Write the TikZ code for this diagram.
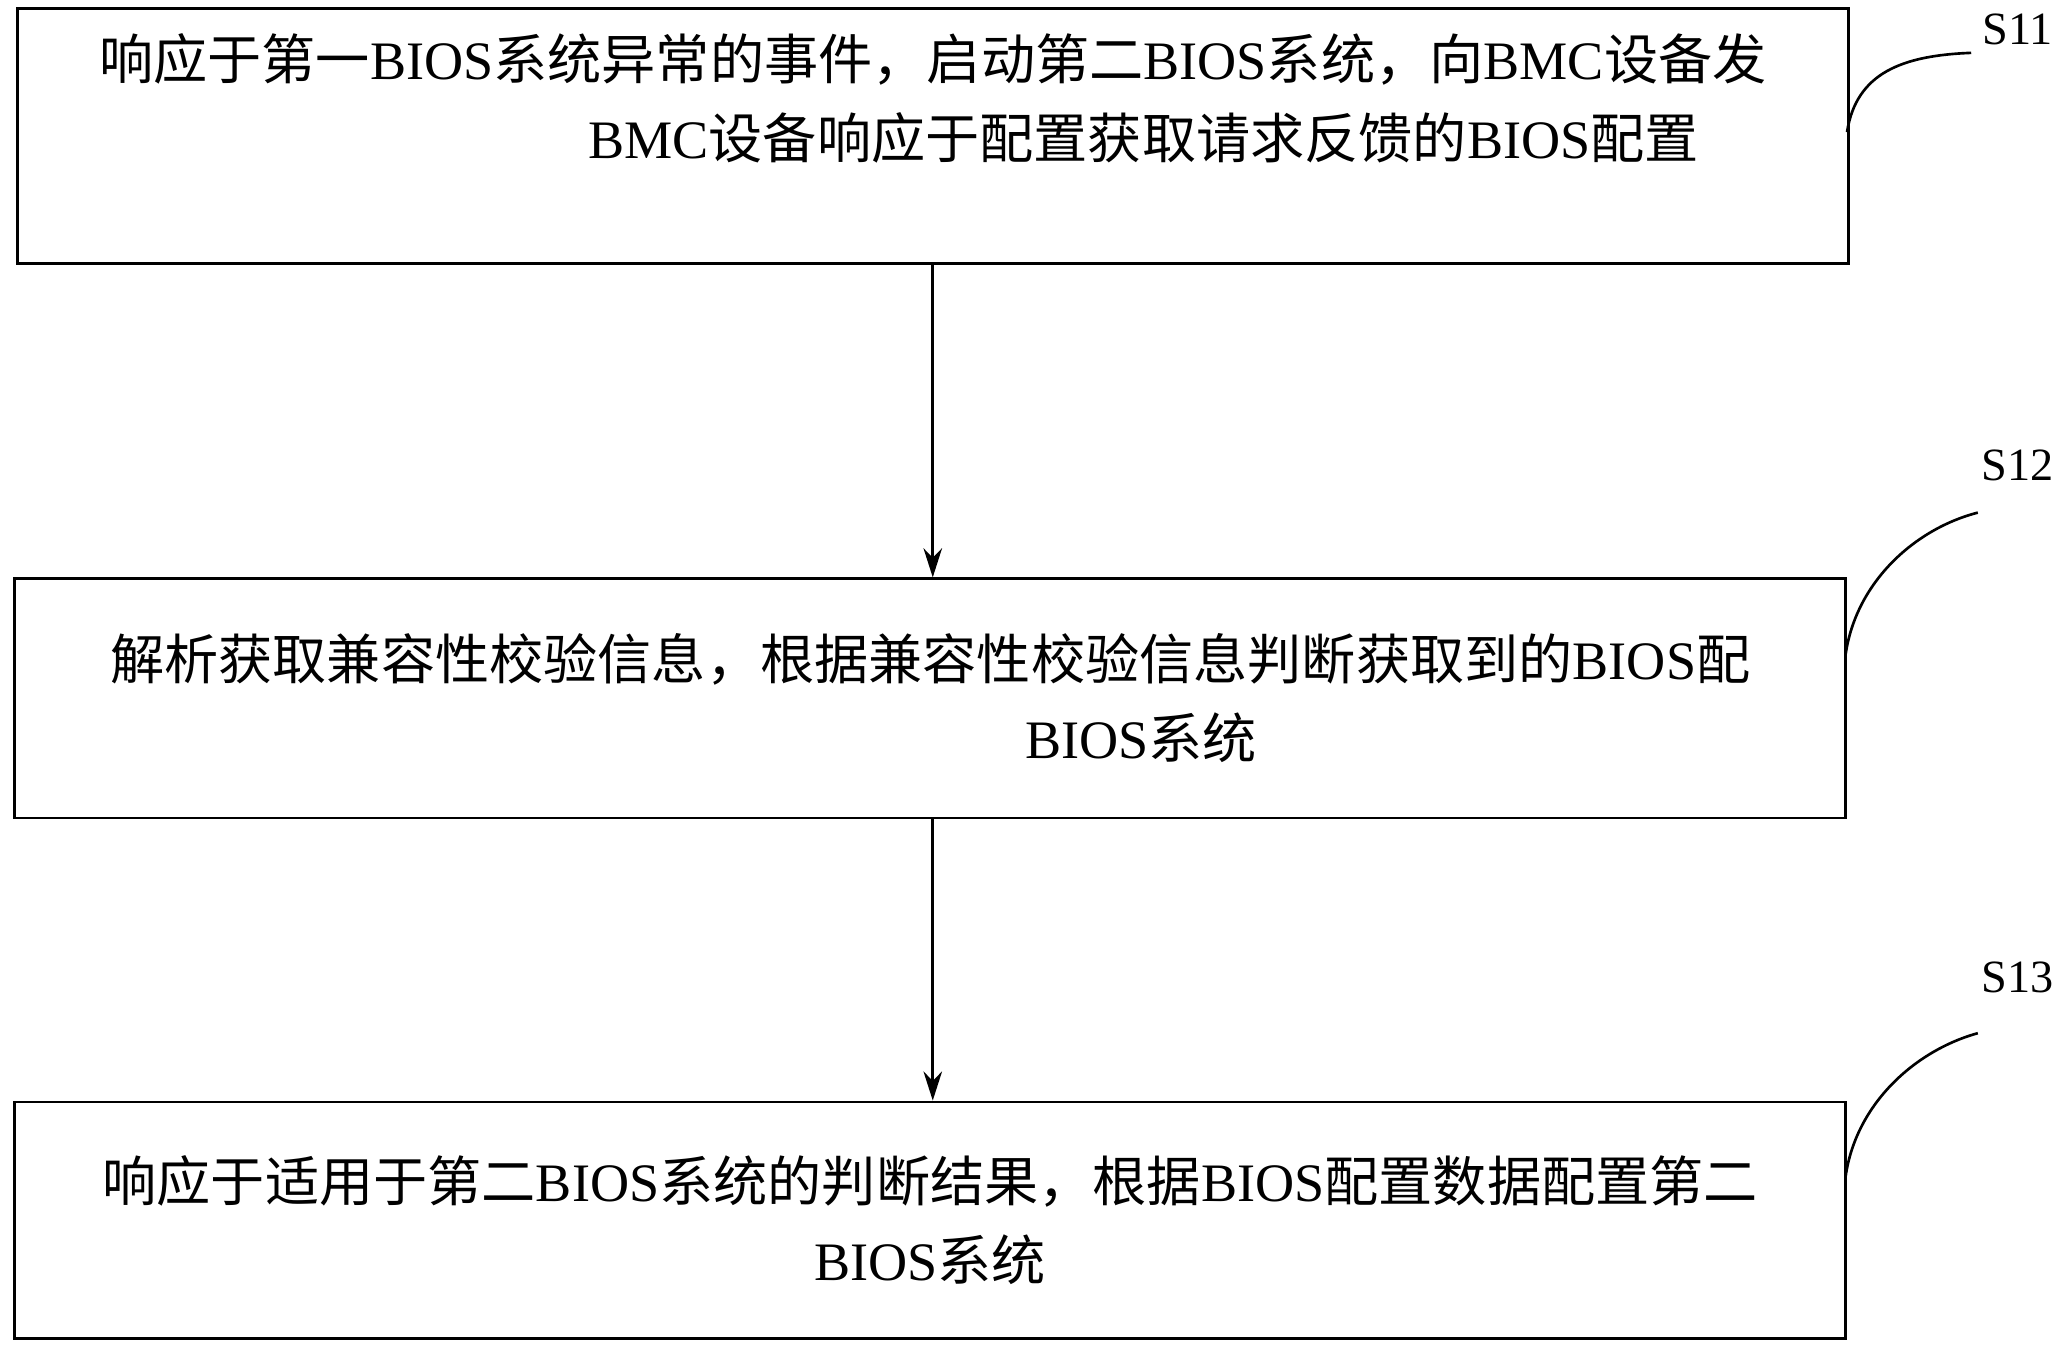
\documentclass[tikz,border=0pt]{standalone}
\usepackage{fontspec}
\setmainfont{Liberation Serif}
\newfontfamily\cjk{Noto Sans CJK SC}
\usetikzlibrary{arrows.meta}
\begin{document}
\begin{tikzpicture}[x=1pt,y=-1pt,
  stepbox/.style={draw,line width=2.2pt,minimum width=1386pt,anchor=north west,align=center,font=\fontsize{41}{60}\selectfont,inner sep=0pt},
  conn/.style={line width=2.2pt,-{Stealth[length=22pt,width=14pt]}},
  lab/.style={font=\fontsize{35}{40}\selectfont}]
\useasboundingbox (0,0) rectangle (1563,1018);
\node[stepbox,minimum height=193pt] (b1) at (12,5) {\cjk 响应于第一\rmfamily BIOS\cjk 系统异常的事件，启动第二\rmfamily BIOS\cjk 系统，向\rmfamily BMC\cjk 设备发\\送配置获取请求，获取\rmfamily BMC\cjk 设备响应于配置获取请求反馈的\rmfamily BIOS\cjk 配置\\数据};
\node[stepbox,minimum height=181pt] (b2) at (10,437) {\cjk 解析获取兼容性校验信息，根据兼容性校验信息判断获取到的\rmfamily BIOS\cjk 配\\置数据是否适用于第二\rmfamily BIOS\cjk 系统};
\node[stepbox,minimum height=179pt] (b3) at (10,833) {\cjk 响应于适用于第二\rmfamily BIOS\cjk 系统的判断结果，根据\rmfamily BIOS\cjk 配置数据配置第二\\\rmfamily BIOS\cjk 系统};
\draw[conn] (b1.south -| 706,0) -- (b2.north -| 706,0);
\draw[conn] (b2.south -| 706,0) -- (b3.north -| 706,0);
\node[lab] (s1) at (1527,22) {S11};
\node[lab] (s2) at (1527,352) {S12};
\node[lab] (s3) at (1527,740) {S13};
\coordinate (c1) at (1398,100);
\coordinate (c2) at (1397,495);
\coordinate (c3) at (1397,890);
\draw[line width=2pt] (c1) .. controls (1405,55) and (1440,42) .. (1492,40);
\draw[line width=2pt] (c2) .. controls (1405,440) and (1450,400) .. (1497,388);
\draw[line width=2pt] (c3) .. controls (1405,835) and (1450,795) .. (1497,782);
\end{tikzpicture}
\end{document}
